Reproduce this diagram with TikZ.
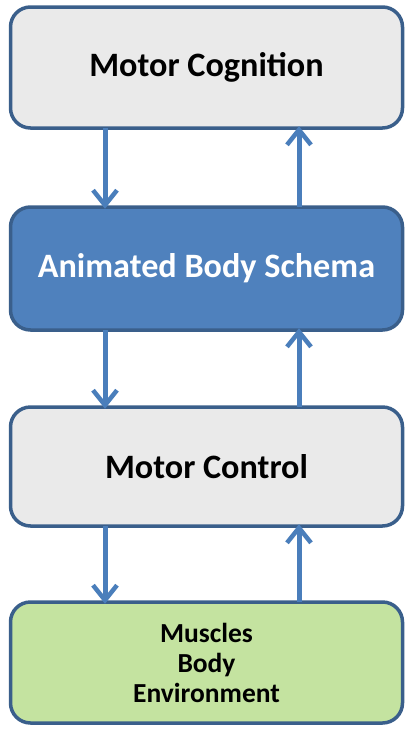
\documentclass[tikz,border=0pt]{standalone}
\usepackage{fontspec}
\setmainfont{Carlito}
\usetikzlibrary{arrows.meta}
\definecolor{edgeblue}{HTML}{3A5F8B}
\definecolor{arrowblue}{HTML}{4A7EBB}
\definecolor{boxgray}{HTML}{EAEAEA}
\definecolor{boxblue}{HTML}{4F81BD}
\definecolor{boxgreen}{HTML}{C4E3A0}
\tikzset{
  layerbox/.style={draw=edgeblue, line width=3.5pt, rounded corners=20pt,
    minimum width=392pt, inner sep=0pt, outer sep=0pt, align=center,
    font=\bfseries\fontsize{34.2}{40}\selectfont},
  flowarrow/.style={draw=arrowblue, line width=5pt,
    -{Straight Barb[length=15pt,width=24pt,line width=4.5pt]}},
}
\begin{document}
\begin{tikzpicture}[x=1pt,y=-1pt]
\useasboundingbox (0,0) rectangle (413,732);
\node[layerbox, fill=boxgray, minimum height=121pt] (cog) at (206.5,67.5) {Motor Cognition};
\node[layerbox, fill=boxblue, text=white, minimum height=123pt] (abs) at (206.5,268.5) {Animated Body Schema};
\node[layerbox, fill=boxgray, minimum height=119pt] (ctl) at (206.5,466.5) {Motor Control};
\node[layerbox, fill=boxgreen, minimum height=121pt, font=\bfseries\fontsize{27.5}{30}\selectfont] (mus) at (206.5,662.5) {Muscles\\Body\\Environment};
\coordinate (xl) at (105,0);
\coordinate (xr) at (299,0);
\draw[flowarrow] (cog.south -| xl) -- ([yshift=-1.8pt]abs.north -| xl);
\draw[flowarrow] (abs.north -| xr) -- ([yshift=1.8pt]cog.south -| xr);
\draw[flowarrow] (abs.south -| xl) -- ([yshift=-1.8pt]ctl.north -| xl);
\draw[flowarrow] (ctl.north -| xr) -- ([yshift=1.8pt]abs.south -| xr);
\draw[flowarrow] (ctl.south -| xl) -- ([yshift=-1.8pt]mus.north -| xl);
\draw[flowarrow] (mus.north -| xr) -- ([yshift=1.8pt]ctl.south -| xr);
\end{tikzpicture}
\end{document}
